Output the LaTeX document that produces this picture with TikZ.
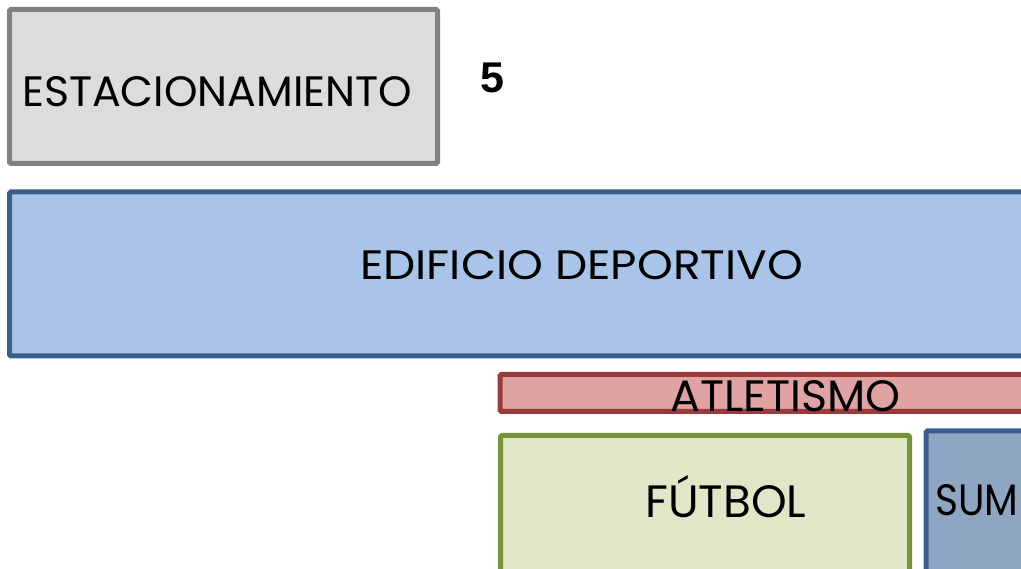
\documentclass[tikz,border=0pt]{standalone}
\usepackage{fontspec}
\setmainfont{Poppins}
\newfontfamily\numfont{Liberation Sans}
\definecolor{grayline}{HTML}{808080}
\definecolor{grayfill}{HTML}{DCDCDC}
\definecolor{blueline}{HTML}{3B5E8C}
\definecolor{bluefill}{HTML}{A9C4E8}
\definecolor{redline}{HTML}{9A3B3B}
\definecolor{redfill}{HTML}{DFA3A3}
\definecolor{greenline}{HTML}{77933C}
\definecolor{greenfill}{HTML}{DFE7C8}
\definecolor{sumfill}{HTML}{8EA6C2}
\tikzset{
  zone/.style={line width=5pt, rounded corners=1.5pt},
  lbl/.style={inner sep=0pt, text=black}
}
\begin{document}
\begin{tikzpicture}[x=1pt,y=-1pt]
\useasboundingbox (0,0) rectangle (1021,569);
\begin{scope}
\clip (0,0) rectangle (1021,569);
\draw[zone, draw=grayline, fill=grayfill] (9.5,9.5) rectangle (437.5,163.5);
\draw[zone, draw=blueline, fill=bluefill] (9.5,192) rectangle (1040,356);
\draw[zone, draw=redline, fill=redfill] (500,374.5) rectangle (1040,411.5);
\draw[zone, draw=greenline, fill=greenfill] (500.5,435.5) rectangle (909.5,600);
\draw[zone, draw=blueline, fill=sumfill] (926,431) rectangle (1040,600);
\end{scope}
\node[lbl, anchor=west] (est) at (22,92) {\resizebox{390pt}{30pt}{ESTACIONAMIENTO}};
\node[lbl] (five) at (492,78) {\fontsize{43}{43}\selectfont\bfseries\numfont 5};
\node[lbl, anchor=west] (edi) at (360,265.5) {\resizebox{443pt}{29pt}{EDIFICIO DEPORTIVO}};
\node[lbl, anchor=west] (atl) at (670,396) {\resizebox{230pt}{31pt}{ATLETISMO}};
\node[lbl, anchor=base west] (fut) at (645,518) {\resizebox{161pt}{!}{FÚTBOL}};
\node[lbl, anchor=west] (sum) at (935,500) {\resizebox{83pt}{31pt}{SUM}};
\end{tikzpicture}
\end{document}
